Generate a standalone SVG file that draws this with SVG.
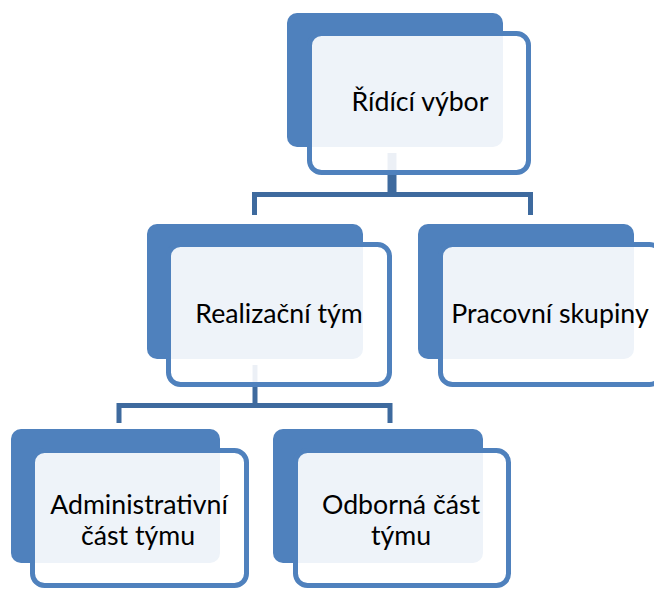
<svg xmlns="http://www.w3.org/2000/svg" width="654" height="589" viewBox="0 0 654 589">
<style>
.back{fill:#4F81BD}
.front{fill:#FFFFFF;fill-opacity:0.9;stroke:#4F81BD;stroke-width:5}
.conn{fill:none;stroke:#3E6A9E;stroke-width:5}
.lbl{font-family:Lato,"Liberation Sans",sans-serif;font-size:26.7px;fill:#000;text-anchor:middle}
</style>
<rect width="654" height="589" fill="#FFFFFF"/>
<g id="connectors">
<line class="conn" x1="392" y1="153" x2="392" y2="195" style="stroke-width:9"/>
<polyline class="conn" points="254.5,215 254.5,194.5 530.5,194.5 530.5,215"/>
<line class="conn" x1="255" y1="365" x2="255" y2="406"/>
<polyline class="conn" points="119,423 119,405.5 390,405.5 390,423"/>
</g>
<g id="ridici-vybor">
<rect class="back" x="287" y="13" width="216" height="134" rx="10"/>
<rect class="front" x="309.5" y="33.5" width="219" height="139" rx="12"/>
<text class="lbl" x="420" y="111">Řídící výbor</text>
</g>
<g id="realizacni-tym">
<rect class="back" x="147" y="224" width="216" height="135" rx="10"/>
<rect class="front" x="168.5" y="244.5" width="221" height="140" rx="12"/>
<text class="lbl" x="279" y="323">Realizační tým</text>
</g>
<g id="pracovni-skupiny">
<rect class="back" x="418" y="224" width="216" height="135" rx="10"/>
<rect class="front" x="440.5" y="244.5" width="221" height="140" rx="12"/>
<text class="lbl" x="550" y="323">Pracovní skupiny</text>
</g>
<g id="administrativni-cast">
<rect class="back" x="11" y="429" width="209" height="134" rx="10"/>
<rect class="front" x="32.5" y="450.5" width="214" height="135" rx="12"/>
<text class="lbl" x="139" y="514">Administrativní</text>
<text class="lbl" x="138" y="545">část týmu</text>
</g>
<g id="odborna-cast">
<rect class="back" x="273" y="429" width="210" height="134" rx="10"/>
<rect class="front" x="295.5" y="450.5" width="213" height="135" rx="12"/>
<text class="lbl" x="401" y="514">Odborná část</text>
<text class="lbl" x="401" y="545">týmu</text>
</g>
</svg>
